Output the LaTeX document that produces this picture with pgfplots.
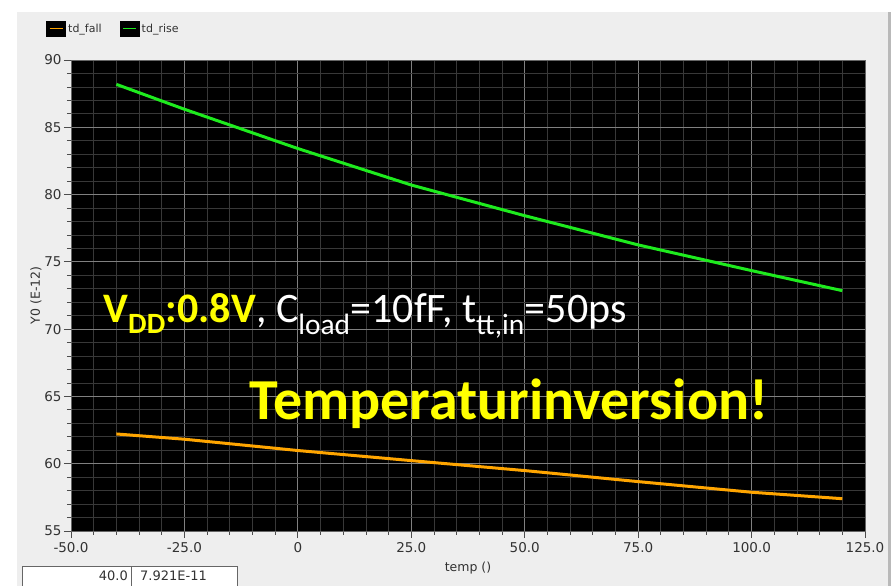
\documentclass[border=0pt]{standalone}
\usepackage{pgfplots}
\pgfplotsset{compat=1.18}
\usepackage{fontspec}
\setmainfont{DejaVu Sans}
\newfontfamily\carlito{Carlito}
\definecolor{panel}{RGB}{238,238,238}
\definecolor{tdfall}{RGB}{255,165,0}
\definecolor{tdrise}{RGB}{30,235,30}
\definecolor{annyellow}{RGB}{255,255,0}
\definecolor{ticktext}{RGB}{50,50,50}
\begin{document}
\begin{tikzpicture}[x=1pt,y=1pt]
\useasboundingbox (0,0) rectangle (894,586);
\fill[white] (0,0) rectangle (894,586);
\fill[panel] (17,0) rectangle (888,574);
\fill[gray!55] (888,0) rectangle (891,574);
% bottom-left readout boxes
\draw[gray!80!black,fill=white,line width=0.8pt] (22,-2) rectangle (131,20);
\draw[gray!80!black,fill=white,line width=0.8pt] (131,-2) rectangle (237,20);
\node[anchor=base east,inner sep=0pt,text=ticktext,font=\fontsize{13}{15}\selectfont] at (128,5) {40.0};
\node[anchor=base west,inner sep=0pt,text=ticktext,font=\fontsize{13}{15}\selectfont] at (140,5) {7.921E-11};
\begin{axis}[
  at={(71pt,55pt)}, anchor=south west,
  scale only axis, width=794pt, height=471pt,
  xmin=-50, xmax=125, ymin=55, ymax=90,
  axis background/.style={fill=black},
  /pgf/number format/assume math mode=true,
  xtick={-50,-25,0,25,50,75,100,125},
  xticklabels={-50.0,-25.0,0,25.0,50.0,75.0,100.0,125.0},
  ytick={55,60,65,70,75,80,85,90},
  minor x tick num=4, minor y tick num=4,
  grid=both,
  major grid style={color=black!50!white,line width=0.8pt},
  minor grid style={color=black!78!white,line width=0.8pt},
  tick align=outside, tick pos=left,
  major tick length=7pt, minor tick length=4pt,
  every tick/.style={color=black!70,line width=0.8pt},
  axis line style={color=black!60,line width=0.8pt},
  tick label style={text=ticktext,font=\fontsize{13.5}{15}\selectfont},
  xticklabel style={yshift=-1pt},
  yticklabel style={xshift=1pt},
  xlabel={temp ()}, ylabel={Y0 (E-12)},
  label style={text=ticktext,font=\fontsize{12.5}{14}\selectfont},
  xlabel style={at={(axis description cs:0.5,-0.079)},anchor=center},
  ylabel style={at={(axis description cs:-0.044,0.5)},anchor=center},
  legend columns=2,
  legend style={at={(axis description cs:-0.0315,1.084)},anchor=north west,
    draw=none,fill=none,inner sep=0pt,
    font=\fontsize{11}{13}\selectfont,text=ticktext,
    /tikz/every even column/.append style={column sep=16pt}},
  legend image code/.code={%
    \fill[black] (0pt,-6.5pt) rectangle (17pt,6.5pt);
    \draw[#1,line width=1.4pt] (2pt,0pt) -- (15pt,0pt);},
  clip=true,
]
\addplot[tdfall,line width=3pt] table {
x y
-40 62.21
-25 61.82
0 60.98
25 60.23
50 59.49
75 58.67
100 57.88
120 57.40
};
\addlegendentry{td\_fall}
\addplot[tdrise,line width=3pt] table {
x y
-40 88.19
-25 86.34
0 83.42
25 80.71
50 78.43
75 76.26
100 74.35
120 72.86
};
\addlegendentry{td\_rise}
\node[anchor=base west,inner sep=0pt,font=\carlito\fontsize{42}{45}\selectfont] at (axis cs:-42.9,70.46)
  {\textcolor{annyellow}{\bfseries V\textsubscript{DD}:0.8V}\textcolor{white}{, C\textsubscript{load}=10fF, t\textsubscript{tt,in}=50ps}};
\node[anchor=base west,inner sep=0pt,font=\carlito\bfseries\fontsize{58}{61}\selectfont,text=annyellow] at (axis cs:-10.7,63.3)
  {Temperaturinversion!};
\end{axis}
\end{tikzpicture}
\end{document}
